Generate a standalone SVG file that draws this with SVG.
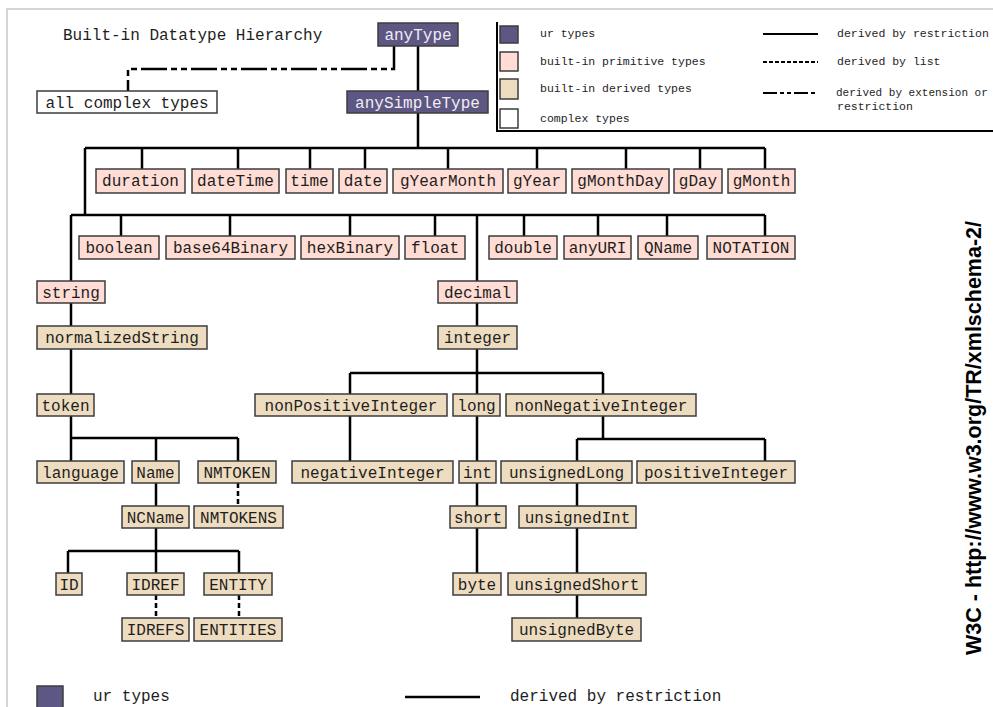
<svg xmlns="http://www.w3.org/2000/svg" width="993" height="707" viewBox="0 0 993 707">
<style>
.bx{stroke:#3c3c3c;stroke-width:1.5}
.ur{fill:#5d5784}
.pr{fill:#ffdcd4}
.dr{fill:#eedcc0}
.cx{fill:#ffffff}
.t{font-family:"Liberation Mono","DejaVu Sans Mono",monospace;font-size:16px;fill:#1e1e1e;text-anchor:middle}
.tu{fill:#f2ecf2}
.lg{font-family:"Liberation Mono","DejaVu Sans Mono",monospace;font-size:11.5px;fill:#1e1e1e}
.big{font-family:"Liberation Mono","DejaVu Sans Mono",monospace;font-size:16px;fill:#1e1e1e}
.c{fill:none;stroke:#000;stroke-width:2.5}
.dash{stroke-dasharray:5 3}
.dd{stroke-dasharray:26 4 6 4 6 4}
</style>
<rect width="993" height="707" fill="#ffffff"/>
<path d="M7,707 V9 H993" fill="none" stroke="#c8c8c8" stroke-width="1.5"/>
<text class="big" x="63" y="40">Built-in Datatype Hierarchy</text>

<g id="connectors">
<path class="c dd" d="M394,46 V69 H128 V91"/>
<path class="c" d="M418,46 V91 M418,113 V148 M85,148 H765 M142,148 V169 M238,148 V169 M310,148 V169 M365,148 V169 M448,148 V169 M537,148 V169 M626,148 V169 M700,148 V169 M765,148 V169"/>
<path class="c" d="M85,148 V215 M71,215 H765 M121,215 V236 M230,215 V236 M350,215 V236 M435,215 V236 M524,215 V236 M598,215 V236 M667,215 V236 M765,215 V236 M71,215 V281 M477,215 V281"/>
<path class="c" d="M71,303 V326 M71,349 V394 M71,416 V461 M71,438 H238 M156,438 V461 M238,438 V461 M156,483 V506 M156,528 V573 M68,551 H239 M68,551 V573 M239,551 V573"/>
<path class="c dash" d="M238,483 V506 M156,595 V618 M239,595 V618"/>
<path class="c" d="M477,303 V326 M477,349 V394 M350,373 H603 M350,373 V394 M603,373 V394 M350,416 V461 M477,416 V573 M603,416 V439 M577,439 H765 M577,439 V461 M765,439 V461 M577,483 V618"/>
</g>

<g id="anyType"><rect class="bx ur" x="378" y="23" width="80" height="23"/><text class="t tu" x="418" y="39.5">anyType</text></g>
<g id="anySimpleType"><rect class="bx ur" x="347" y="91" width="141" height="22"/><text class="t tu" x="417.5" y="107.5">anySimpleType</text></g>
<g id="allComplexTypes"><rect class="bx cx" x="37" y="91" width="180" height="22"/><text class="t" x="127" y="107.5">all complex types</text></g>

<g id="duration"><rect class="bx pr" x="96" y="169" width="89" height="24"/><text class="t" x="140.5" y="186">duration</text></g>
<g id="dateTime"><rect class="bx pr" x="192" y="169" width="87" height="24"/><text class="t" x="235.5" y="186">dateTime</text></g>
<g id="time"><rect class="bx pr" x="286" y="169" width="47" height="24"/><text class="t" x="309.5" y="186">time</text></g>
<g id="date"><rect class="bx pr" x="339" y="169" width="48" height="24"/><text class="t" x="363" y="186">date</text></g>
<g id="gYearMonth"><rect class="bx pr" x="393" y="169" width="110" height="24"/><text class="t" x="448" y="186">gYearMonth</text></g>
<g id="gYear"><rect class="bx pr" x="508" y="169" width="58" height="24"/><text class="t" x="537" y="186">gYear</text></g>
<g id="gMonthDay"><rect class="bx pr" x="572" y="169" width="97" height="24"/><text class="t" x="620.5" y="186">gMonthDay</text></g>
<g id="gDay"><rect class="bx pr" x="674" y="169" width="48" height="24"/><text class="t" x="698" y="186">gDay</text></g>
<g id="gMonth"><rect class="bx pr" x="728" y="169" width="67" height="24"/><text class="t" x="761.5" y="186">gMonth</text></g>

<g id="boolean"><rect class="bx pr" x="79" y="236" width="80" height="23"/><text class="t" x="119" y="252.5">boolean</text></g>
<g id="base64Binary"><rect class="bx pr" x="166" y="236" width="129" height="23"/><text class="t" x="230.5" y="252.5">base64Binary</text></g>
<g id="hexBinary"><rect class="bx pr" x="301" y="236" width="98" height="23"/><text class="t" x="350" y="252.5">hexBinary</text></g>
<g id="float"><rect class="bx pr" x="405" y="236" width="60" height="23"/><text class="t" x="435" y="252.5">float</text></g>
<g id="double"><rect class="bx pr" x="489" y="236" width="68" height="23"/><text class="t" x="523" y="252.5">double</text></g>
<g id="anyURI"><rect class="bx pr" x="564" y="236" width="67" height="23"/><text class="t" x="597.5" y="252.5">anyURI</text></g>
<g id="QName"><rect class="bx pr" x="638" y="236" width="60" height="23"/><text class="t" x="668" y="252.5">QName</text></g>
<g id="NOTATION"><rect class="bx pr" x="707" y="236" width="88" height="23"/><text class="t" x="751" y="252.5">NOTATION</text></g>
<g id="string"><rect class="bx pr" x="37" y="281" width="68" height="22"/><text class="t" x="71" y="297.5">string</text></g>
<g id="decimal"><rect class="bx pr" x="438" y="281" width="79" height="22"/><text class="t" x="477.5" y="297.5">decimal</text></g>

<g id="normalizedString"><rect class="bx dr" x="37" y="326" width="170" height="23"/><text class="t" x="122" y="342.5">normalizedString</text></g>
<g id="integer"><rect class="bx dr" x="438" y="326" width="79" height="23"/><text class="t" x="477.5" y="342.5">integer</text></g>
<g id="token"><rect class="bx dr" x="37" y="394" width="57" height="22"/><text class="t" x="65.5" y="410.5">token</text></g>
<g id="nonPositiveInteger"><rect class="bx dr" x="255" y="394" width="192" height="22"/><text class="t" x="351" y="410.5">nonPositiveInteger</text></g>
<g id="long"><rect class="bx dr" x="453" y="394" width="47" height="22"/><text class="t" x="476.5" y="410.5">long</text></g>
<g id="nonNegativeInteger"><rect class="bx dr" x="506" y="394" width="190" height="22"/><text class="t" x="601" y="410.5">nonNegativeInteger</text></g>
<g id="language"><rect class="bx dr" x="37" y="461" width="87" height="22"/><text class="t" x="80.5" y="477.5">language</text></g>
<g id="Name"><rect class="bx dr" x="132" y="461" width="47" height="22"/><text class="t" x="155.5" y="477.5">Name</text></g>
<g id="NMTOKEN"><rect class="bx dr" x="198" y="461" width="78" height="22"/><text class="t" x="237" y="477.5">NMTOKEN</text></g>
<g id="negativeInteger"><rect class="bx dr" x="292" y="461" width="161" height="22"/><text class="t" x="372.5" y="477.5">negativeInteger</text></g>
<g id="int"><rect class="bx dr" x="459" y="461" width="37" height="22"/><text class="t" x="477.5" y="477.5">int</text></g>
<g id="unsignedLong"><rect class="bx dr" x="501" y="461" width="131" height="22"/><text class="t" x="566.5" y="477.5">unsignedLong</text></g>
<g id="positiveInteger"><rect class="bx dr" x="637" y="461" width="158" height="22"/><text class="t" x="716" y="477.5">positiveInteger</text></g>
<g id="NCName"><rect class="bx dr" x="122" y="506" width="67" height="22"/><text class="t" x="155.5" y="522.5">NCName</text></g>
<g id="NMTOKENS"><rect class="bx dr" x="194" y="506" width="89" height="22"/><text class="t" x="238.5" y="522.5">NMTOKENS</text></g>
<g id="short"><rect class="bx dr" x="450" y="506" width="56" height="22"/><text class="t" x="478" y="522.5">short</text></g>
<g id="unsignedInt"><rect class="bx dr" x="519" y="506" width="117" height="22"/><text class="t" x="577.5" y="522.5">unsignedInt</text></g>
<g id="ID"><rect class="bx dr" x="56" y="573" width="26" height="22"/><text class="t" x="69" y="589.5">ID</text></g>
<g id="IDREF"><rect class="bx dr" x="127" y="573" width="57" height="22"/><text class="t" x="155.5" y="589.5">IDREF</text></g>
<g id="ENTITY"><rect class="bx dr" x="204" y="573" width="68" height="22"/><text class="t" x="238" y="589.5">ENTITY</text></g>
<g id="byte"><rect class="bx dr" x="453" y="573" width="48" height="22"/><text class="t" x="477" y="589.5">byte</text></g>
<g id="unsignedShort"><rect class="bx dr" x="508" y="573" width="138" height="22"/><text class="t" x="577" y="589.5">unsignedShort</text></g>
<g id="IDREFS"><rect class="bx dr" x="122" y="618" width="67" height="23"/><text class="t" x="155.5" y="634.5">IDREFS</text></g>
<g id="ENTITIES"><rect class="bx dr" x="194" y="618" width="88" height="23"/><text class="t" x="238" y="634.5">ENTITIES</text></g>
<g id="unsignedByte"><rect class="bx dr" x="512" y="618" width="129" height="23"/><text class="t" x="576.5" y="634.5">unsignedByte</text></g>

<g id="legend">
<path d="M497,22 V131 H993" fill="none" stroke="#000" stroke-width="2"/>
<rect class="bx ur" x="500" y="26" width="18" height="17"/>
<rect class="bx pr" x="500" y="52" width="18" height="19"/>
<rect class="bx dr" x="500" y="79" width="18" height="20"/>
<rect class="bx cx" x="500" y="109" width="18" height="19"/>
<text class="lg" x="540" y="37">ur types</text>
<text class="lg" x="540" y="65">built-in primitive types</text>
<text class="lg" x="540" y="92">built-in derived types</text>
<text class="lg" x="540" y="122">complex types</text>
<path d="M763,34 H818" stroke="#000" stroke-width="2"/>
<path d="M763,62 H818" stroke="#000" stroke-width="2" stroke-dasharray="4 2"/>
<path d="M763,93 H818" stroke="#000" stroke-width="2" stroke-dasharray="14 3 4 3 4 3"/>
<text class="lg" x="837" y="37">derived by restriction</text>
<text class="lg" x="837" y="65">derived by list</text>
<text class="lg" x="836" y="96" style="font-size:11px">derived by extension or</text>
<text class="lg" x="837" y="110">restriction</text>
</g>

<g id="legendBottom">
<rect class="bx ur" x="37" y="686" width="26" height="26"/>
<text class="big" x="93" y="701">ur types</text>
<path d="M405,697 H480" stroke="#000" stroke-width="2.5"/>
<text class="big" x="510" y="701">derived by restriction</text>
</g>

<text x="981" y="655" transform="rotate(-90 981 655)" font-family="'Liberation Sans',Arial,sans-serif" font-weight="bold" font-size="21.5" fill="#000">W3C - http://www.w3.org/TR/xmlschema-2/</text>
</svg>
